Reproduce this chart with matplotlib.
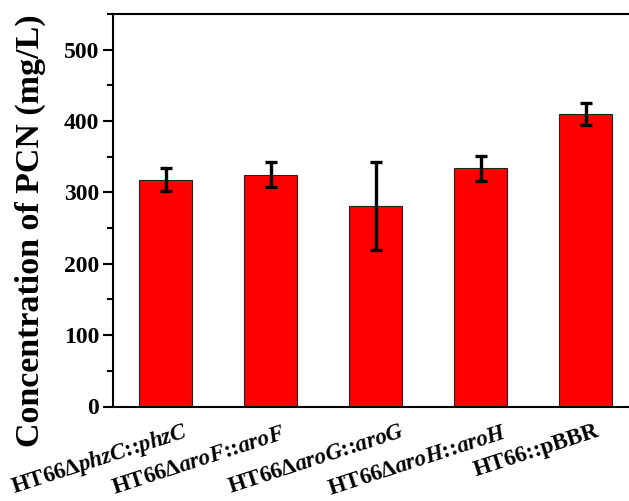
import matplotlib
matplotlib.use("Agg")
import matplotlib.pyplot as plt
from matplotlib.ticker import MultipleLocator

plt.rcParams['font.family'] = ['Liberation Serif', 'DejaVu Serif']
plt.rcParams['font.weight'] = 'bold'
plt.rcParams['mathtext.fontset'] = 'custom'
plt.rcParams['mathtext.rm'] = 'Liberation Serif:bold'
plt.rcParams['mathtext.it'] = 'Liberation Serif:italic:bold'
plt.rcParams['mathtext.bf'] = 'Liberation Serif:bold'

strains = [r"HT66Δ$\mathit{phzC}$::$\mathit{phzC}$",
           r"HT66Δ$\mathit{aroF}$::$\mathit{aroF}$",
           r"HT66Δ$\mathit{aroG}$::$\mathit{aroG}$",
           r"HT66Δ$\mathit{aroH}$::$\mathit{aroH}$",
           "HT66::pBBR"]
pcn = [318, 325, 281, 334, 410]
pcn_err = [16, 17, 62, 17.5, 15.5]

W, H = 629, 501
fig = plt.figure(figsize=(W / 100, H / 100), dpi=100)
ax = fig.add_axes([113 / W, 94.5 / H, 525 / W, 392.5 / H])

x = list(range(len(strains)))
ax.bar(x, pcn, width=0.5, color='#FF0000', edgecolor='#222222', linewidth=0.8, zorder=2)
ax.errorbar(x, pcn, yerr=pcn_err, fmt='none', ecolor='black', elinewidth=2.4,
            capsize=4.5, capthick=2.4, zorder=3)

ax.set_xlim(-0.5, 4.5)
ax.set_ylim(0, 550)
ax.yaxis.set_major_locator(MultipleLocator(100))
ax.yaxis.set_minor_locator(MultipleLocator(50))
ax.tick_params(axis='y', which='major', direction='out', length=7, width=1.5,
               labelsize=17, pad=3)
ax.tick_params(axis='y', which='minor', direction='out', length=4, width=1.5)
ax.tick_params(axis='x', which='both', length=0)
ax.set_xticks(x)
ax.set_xticklabels([])
for lab in ax.get_yticklabels():
    lab.set_fontweight('bold')

ax.spines['right'].set_visible(False)
for s in ['left', 'bottom', 'top']:
    ax.spines[s].set_linewidth(1.5)

ax.set_ylabel("Concentration of PCN (mg/L)", fontsize=24.5, fontweight='bold')
ax.yaxis.set_label_coords(-0.128, 0.4484)

# rotated category labels, placed by hand as in the original (pixel offsets
# of each label's baseline end from the bar centre at the x axis)
label_dx = [24, 16, 30, 28, 15]
label_dy = [30, 32, 30, 31, 29]
for xi, name, dx, dy in zip(x, strains, label_dx, label_dy):
    px, py = ax.transData.transform((xi, 0))
    fig.text((px + dx) / W, (py - dy) / H, name, rotation=18, rotation_mode='anchor',
             ha='right', va='baseline', fontsize=16.5, fontweight='bold')

fig.savefig("out.png", dpi=100)
